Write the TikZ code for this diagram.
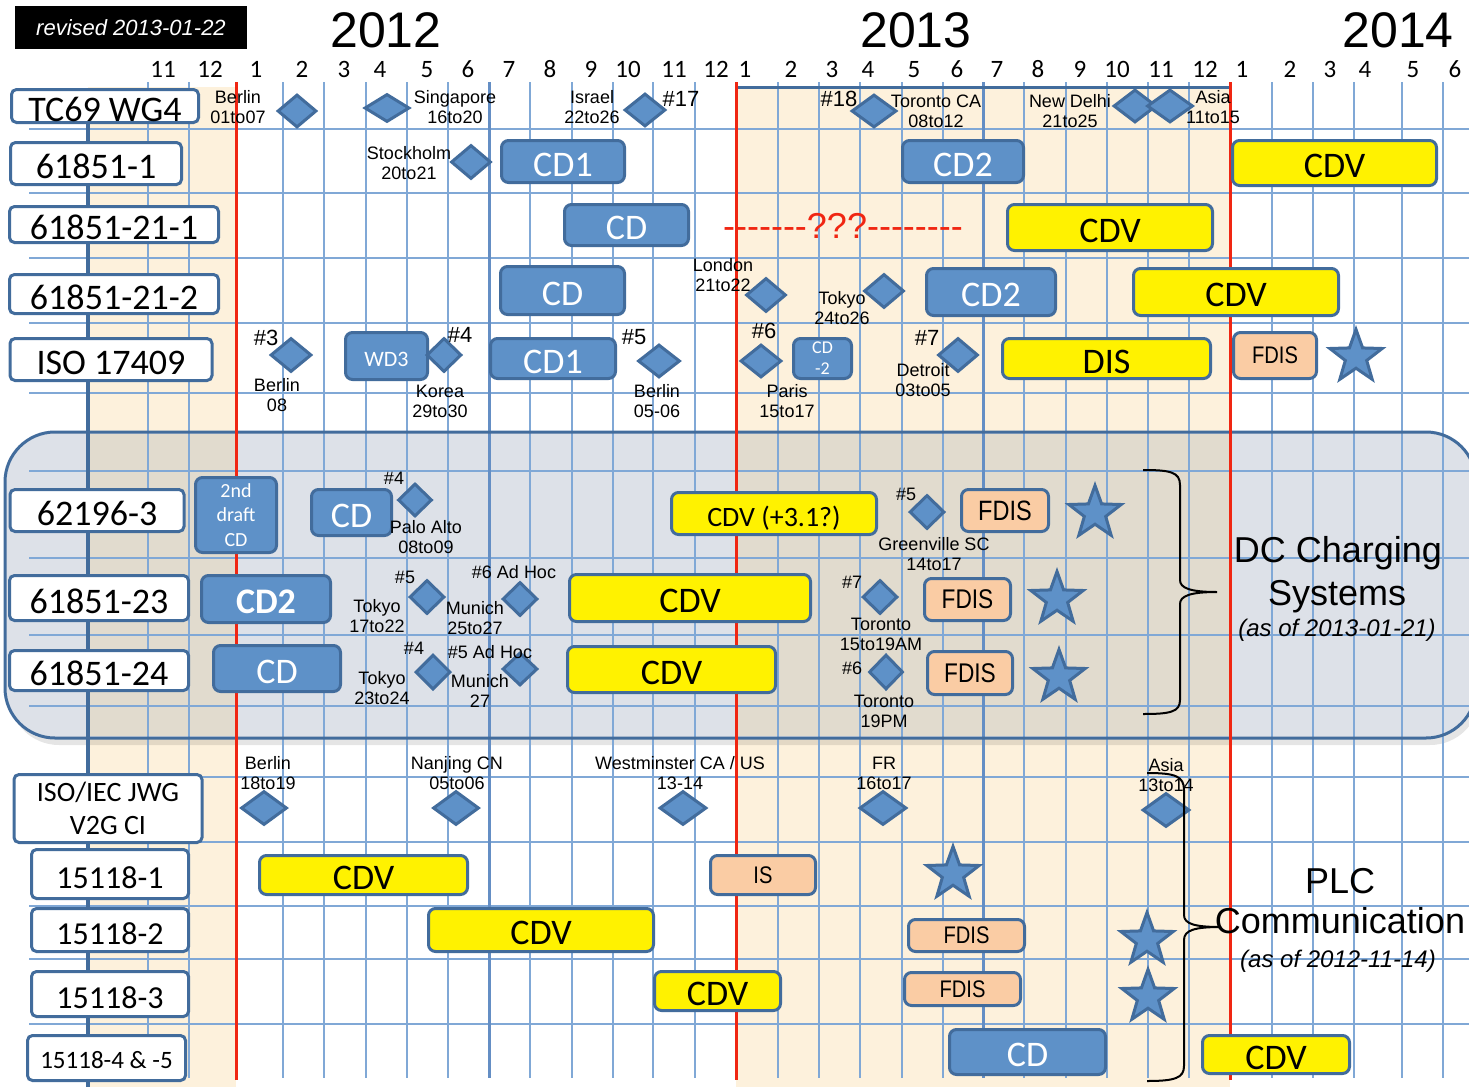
\documentclass[tikz,border=0pt]{standalone}
\usepackage{fontspec}
\setmainfont{Liberation Sans}
\newfontfamily\calib{Carlito}
\newfontfamily\narrow[FakeStretch=0.84]{Liberation Sans}
\usepackage{tikz}
\usetikzlibrary{shapes.geometric}

\definecolor{gridblue}{RGB}{128,168,214}
\definecolor{thickgrid}{RGB}{100,142,196}
\definecolor{edgeblue}{RGB}{66,108,156}
\definecolor{fillblue}{RGB}{94,145,200}
\definecolor{beige}{RGB}{253,241,220}
\definecolor{panelgrey}{RGB}{221,225,232}
\definecolor{panelbeige}{RGB}{225,219,206}
\definecolor{peach}{RGB}{250,204,164}
\definecolor{cutred}{RGB}{240,38,18}

\tikzset{
  gridln/.style={draw=gridblue, line width=1.5pt},
  docbox/.style={draw=edgeblue, fill=white, line width=3pt, rounded corners=5pt, inner sep=0pt, text height=30pt, text depth=0pt, font=\calib\fontsize{36}{40}\selectfont},
  stagebox/.style={draw=edgeblue, line width=3pt, rounded corners=7pt, inner sep=0pt, text depth=0pt},
  cdbox/.style={stagebox, fill=fillblue, text=white, text height=29pt, font=\calib\fontsize{36}{40}\selectfont},
  cdvbox/.style={stagebox, fill=yellow, text height=29pt, font=\calib\fontsize{36}{40}\selectfont},
  fdisbox/.style={stagebox, fill=peach, font=\narrow\fontsize{24}{28}\selectfont},
  notebox/.style={draw=edgeblue, line width=3pt, rounded corners=7pt, fill=fillblue, text=white, align=center, inner sep=0pt},
  meet/.style={diamond, draw=edgeblue, fill=fillblue, line width=3pt, inner sep=0pt, minimum width=40pt, minimum height=34pt},
  goal/.style={star, star points=5, star point ratio=2.45, draw=edgeblue, fill=fillblue, line width=3pt, inner sep=0pt, minimum size=55pt},
  place/.style={align=center, font=\fontsize{18}{20}\selectfont},
  tag/.style={font=\fontsize{22}{24}\selectfont},
  smalltag/.style={font=\fontsize{18}{20}\selectfont},
  brace/.style={draw=black, line width=2pt},
  sidetxt/.style={anchor=base, font=\fontsize{36}{40}\selectfont},
  sidenote/.style={anchor=base, font=\itshape\fontsize{24}{26}\selectfont},
}

\begin{document}
\begin{tikzpicture}[x=1pt, y=-1pt]
\useasboundingbox (0,0) rectangle (1469,1087);
\fill[white] (0,0) rectangle (1469,1087);
\fill[beige] (88,87) rectangle (236,1087);
\fill[beige] (736,87) rectangle (1230,1087);
\fill[black, opacity=0.1, rounded corners=50pt] (9,437) rectangle (1480,745);
\fill[panelgrey, rounded corners=50pt] (5,432) rectangle (1476,738);
\fill[panelbeige] (88,434) rectangle (236,736);
\fill[panelbeige] (736,434) rectangle (1230,736);

\foreach \y in {129,193,258,323,393,471,558,635,706,777,842,906,959,1024}
  \draw[gridln] (29,\y) -- (1469,\y);
\foreach \x in {148,189,283,324,366,407,448,530,572,613,653,695,778,819,860,902,943,1024,1066,1107,1148,1189,1272,1313,1354,1402,1443}
  \draw[gridln] (\x,82) -- (\x,1078);
\foreach \x in {489,983}
  \draw[thickgrid, line width=3pt] (\x,82) -- (\x,1078);
\draw[edgeblue, line width=3pt, rounded corners=50pt] (5,432) rectangle (1476,738);
\draw[edgeblue, line width=3pt] (736,87) -- (1230,87);
\draw[edgeblue, line width=4pt] (88,124) -- (88,1087);
\foreach \x in {236,736,1230}
  \draw[cutred, line width=3pt] (\x,82) -- (\x,1080);

\node[fill=black, text=white, minimum width=232pt, minimum height=43pt, inner sep=0pt, text height=16pt, text depth=0pt, font=\itshape\fontsize{22}{24}\selectfont] (rev) at (131,27.5) {revised 2013-01-22};
\node[anchor=base, font=\fontsize{50}{54}\selectfont] (yra) at (386,47) {2012};
\node[anchor=base, font=\fontsize{50}{54}\selectfont] (yrb) at (916,47) {2013};
\node[anchor=base, font=\fontsize{50}{54}\selectfont] (yrc) at (1398,47) {2014};
\foreach \x/\m in {163/11,210/12,256/1,302/2,344/3,380/4,427/5,468/6,509/7,550/8,591/9,628/10,674/11,716/12,745/1,791/2,832/3,868/4,914/5,957/6,997/7,1038/8,1080/9,1117/10,1161/11,1205/12,1242/1,1290/2,1330/3,1365/4,1413/5,1455/6}
  \node[anchor=base, font=\calib\fontsize{25}{28}\selectfont] (mon\x) at (\x,77) {\m};

\node[text=cutred, font=\fontsize{36}{40}\selectfont] (unknown) at (843,226) {-{}-{}-{}-{}-{}-{}-???-{}-{}-{}-{}-{}-{}-{}-};

\node[docbox, minimum width=187pt, minimum height=33pt] (tcwg) at (105,106) {TC69 WG4};
\node[docbox, minimum width=171pt, minimum height=42pt] (pa) at (96,163.5) {61851-1};
\node[docbox, minimum width=209pt, minimum height=36pt] (pb) at (114,224.5) {61851-21-1};
\node[docbox, minimum width=209pt, minimum height=39pt] (pc) at (114,294) {61851-21-2};
\node[docbox, minimum width=202pt, minimum height=42pt] (isoa) at (111,359.5) {ISO 17409};
\node[docbox, minimum width=174pt, minimum height=42pt] (pd) at (97,510.5) {62196-3};
\node[docbox, minimum width=179pt, minimum height=45pt] (pe) at (99,598) {61851-23};
\node[docbox, minimum width=179pt, minimum height=40pt] (pf) at (99,670.5) {61851-24};
\node[docbox, align=center, text height={}, text depth={}, minimum width=188pt, minimum height=68pt, font=\calib\fontsize{28}{33}\selectfont] (jwg) at (108,808.5) {ISO/IEC JWG\\V2G CI};
\node[docbox, text height=28pt, minimum width=157pt, minimum height=49pt, font=\calib\fontsize{32}{36}\selectfont] (qa) at (110,874) {15118-1};
\node[docbox, text height=28pt, minimum width=157pt, minimum height=43pt, font=\calib\fontsize{32}{36}\selectfont] (qb) at (110,930) {15118-2};
\node[docbox, text height=28pt, minimum width=157pt, minimum height=45pt, font=\calib\fontsize{32}{36}\selectfont] (qc) at (110,994) {15118-3};
\node[docbox, text height=20pt, minimum width=158pt, minimum height=45pt, font=\calib\fontsize{25}{28}\selectfont] (qd) at (106.5,1058) {15118-4 \& -5};

\node[cdbox, minimum width=123pt, minimum height=42pt] (cdA) at (563,161.5) {CD1};
\node[cdbox, minimum width=121pt, minimum height=42pt] (cdB) at (963,161.5) {CD2};
\node[cdvbox, minimum width=204pt, minimum height=45pt] (cdvA) at (1334.5,163) {CDV};
\node[cdbox, minimum width=124pt, minimum height=41pt] (cdC) at (626.5,225) {CD};
\node[cdvbox, minimum width=205pt, minimum height=46pt] (cdvB) at (1110,227.5) {CDV};
\node[cdbox, minimum width=124pt, minimum height=48pt] (cdD) at (562.5,290.5) {CD};
\node[cdbox, minimum width=129pt, minimum height=47pt] (cdE) at (991,292) {CD2};
\node[cdvbox, minimum width=205pt, minimum height=47pt] (cdvC) at (1236,292) {CDV};
\node[cdbox, minimum width=82pt, minimum height=47pt, text height=20pt, font=\calib\fontsize{22}{24}\selectfont] (wd) at (386.5,356) {WD3};
\node[cdbox, minimum width=125pt, minimum height=40pt] (cdF) at (553,358.5) {CD1};
\node[notebox, minimum width=58pt, minimum height=40pt, font=\calib\fontsize{18}{21}\selectfont] (cdG) at (822.5,358.5) {CD\\-2};
\node[cdvbox, minimum width=208pt, minimum height=40pt] (dis) at (1106.5,358.5) {DIS};
\node[fdisbox, minimum width=83pt, minimum height=46pt] (fdA) at (1275,355.5) {FDIS};

\node[notebox, minimum width=81pt, minimum height=75pt, font=\calib\fontsize{20}{24.5}\selectfont] (drft) at (236,515) {2nd\\draft\\CD};
\node[cdbox, minimum width=80pt, minimum height=46pt] (cdH) at (351.5,512.5) {CD};
\node[cdvbox, minimum width=205pt, minimum height=42pt, text height=25pt, font=\calib\fontsize{28}{30}\selectfont] (cdvD) at (774,513.5) {CDV (+3.1?)};
\node[fdisbox, minimum width=87pt, minimum height=42pt, font=\narrow\fontsize{28}{30}\selectfont] (fdB) at (1005,510.5) {FDIS};
\node[cdbox, minimum width=129pt, minimum height=47pt, font=\calib\bfseries\fontsize{36}{40}\selectfont] (cdI) at (266,599) {CD2};
\node[cdvbox, minimum width=241pt, minimum height=47pt] (cdvE) at (690,598) {CDV};
\node[fdisbox, minimum width=86pt, minimum height=42pt, font=\narrow\fontsize{27}{30}\selectfont] (fdC) at (967.5,599.5) {FDIS};
\node[cdbox, minimum width=127pt, minimum height=46pt] (cdJ) at (277,668.5) {CD};
\node[cdvbox, minimum width=208pt, minimum height=46pt] (cdvF) at (671.5,669.5) {CDV};
\node[fdisbox, minimum width=85pt, minimum height=43pt, font=\narrow\fontsize{27}{30}\selectfont] (fdD) at (970,673) {FDIS};

\node[cdvbox, minimum width=208pt, minimum height=39pt] (cdvG) at (363.5,875) {CDV};
\node[fdisbox, minimum width=105pt, minimum height=39pt] (isb) at (763,875) {IS};
\node[cdvbox, minimum width=225pt, minimum height=43pt] (cdvH) at (541,930) {CDV};
\node[fdisbox, minimum width=116pt, minimum height=32pt] (fdE) at (966.5,935.5) {FDIS};
\node[cdvbox, minimum width=126pt, minimum height=39pt] (cdvI) at (717.5,991) {CDV};
\node[fdisbox, minimum width=116pt, minimum height=33pt] (fdF) at (962.5,989) {FDIS};
\node[cdbox, minimum width=156pt, minimum height=45pt] (cdK) at (1027.5,1052) {CD};
\node[cdvbox, minimum width=147pt, minimum height=38pt] (cdvJ) at (1276,1054.5) {CDV};

\node[meet, minimum width=39pt, minimum height=33pt] (dA) at (297,111) {};
\node[meet, minimum width=45pt, minimum height=28pt] (dB) at (387,108) {};
\node[meet, minimum width=41pt, minimum height=33pt] (dC) at (645,110) {};
\node[meet, minimum width=45pt, minimum height=33pt] (dD) at (874,111) {};
\node[meet, minimum width=43pt, minimum height=33pt] (dE) at (1135,106) {};
\node[meet, minimum width=46pt, minimum height=33pt] (dF) at (1170,106) {};
\node[meet] (dG) at (471,162) {};
\node[meet] (dH) at (766,295) {};
\node[meet] (dI) at (884,291) {};
\node[meet, minimum width=41pt] (dJ) at (291,355) {};
\node[meet, minimum width=35pt] (dK) at (444,355) {};
\node[meet, minimum width=42pt, minimum height=33pt] (dL) at (659,361) {};
\node[meet, minimum width=41pt, minimum height=33pt] (dM) at (761,361) {};
\node[meet] (dN) at (958,355) {};
\node[meet, minimum width=34pt, minimum height=33pt] (dO) at (415,500) {};
\node[meet, minimum width=35pt] (dP) at (927,512) {};
\node[meet, minimum width=35pt] (dQ) at (427,597) {};
\node[meet, minimum width=35pt] (dR) at (520,599) {};
\node[meet, minimum width=35pt] (dS) at (880,597) {};
\node[meet, minimum width=35pt, minimum height=35pt] (dT) at (433,672) {};
\node[meet, minimum width=35pt, minimum height=33pt] (dU) at (520,669) {};
\node[meet, minimum width=34pt, minimum height=35pt] (dV) at (886,672) {};
\node[meet, minimum width=46pt] (dW) at (264,808) {};
\node[meet, minimum width=46pt] (dX) at (456,808) {};
\node[meet, minimum width=47pt] (dY) at (683,808) {};
\node[meet, minimum width=47pt] (dZ) at (883,808) {};
\node[meet, minimum width=47pt] (dAsia) at (1166,810) {};

\node[goal] (sA) at (1356,357) {};
\node[goal] (sB) at (1095,513) {};
\node[goal] (sC) at (1057,599) {};
\node[goal] (sD) at (1059,677) {};
\node[goal] (sE) at (953,874) {};
\node[goal] (sF) at (1147,940) {};
\node[goal] (sG) at (1148,997) {};

\node[place] (lberA) at (238,107) {Berlin\\01to07};
\node[place] (lsin) at (455,107) {Singapore\\16to20};
\node[place] (lisr) at (592,107) {Israel\\22to26};
\node[place] (ltorA) at (936,111) {Toronto CA\\08to12};
\node[place] (ldel) at (1070,111) {New Delhi\\21to25};
\node[place] (lasA) at (1213,107) {Asia\\11to15};
\node[place] (lsto) at (409,163) {Stockholm\\20to21};
\node[place] (llon) at (723,275) {London\\21to22};
\node[place] (ltokA) at (842,308) {Tokyo\\24to26};
\node[place] (lberB) at (277,395) {Berlin\\08};
\node[place] (lkor) at (440,401) {Korea\\29to30};
\node[place] (lberC) at (657,401) {Berlin\\05-06};
\node[place] (lpar) at (787,401) {Paris\\15to17};
\node[place] (ldet) at (923,380) {Detroit\\03to05};
\node[place] (lpal) at (426,537) {Palo Alto\\08to09};
\node[place] (lgre) at (934,554) {Greenville SC\\14to17};
\node[place] (ltokB) at (377,616) {Tokyo\\17to22};
\node[place] (lmunA) at (475,618) {Munich\\25to27};
\node[place] (ltorB) at (881,634) {Toronto\\15to19AM};
\node[place] (ltokC) at (382,688) {Tokyo\\23to24};
\node[place] (lmunB) at (480,691) {Munich\\27};
\node[place] (ltorC) at (884,711) {Toronto\\19PM};
\node[place] (lberD) at (268,773) {Berlin\\18to19};
\node[place] (lnan) at (457,773) {Nanjing CN\\05to06};
\node[place] (lwes) at (680,773) {Westminster CA / US\\13-14};
\node[place] (lfr) at (884,773) {FR\\16to17};
\node[place] (lasB) at (1166,775) {Asia\\13to14};

\node[tag] (tA) at (681,99) {\#17};
\node[tag] (tB) at (839,99) {\#18};
\node[tag] (tC) at (266,338) {\#3};
\node[tag] (tD) at (460,335) {\#4};
\node[tag] (tE) at (634,337) {\#5};
\node[tag] (tF) at (764,331) {\#6};
\node[tag] (tG) at (927,338) {\#7};
\node[smalltag] (tH) at (394,478) {\#4};
\node[smalltag] (tI) at (906,494) {\#5};
\node[smalltag] (tJ) at (405,577) {\#5};
\node[smalltag] (tK) at (514,572) {\#6 Ad Hoc};
\node[smalltag] (tL) at (852,582) {\#7};
\node[smalltag] (tM) at (414,648) {\#4};
\node[smalltag] (tN) at (490,652) {\#5 Ad Hoc};
\node[smalltag] (tO) at (852,668) {\#6};

\draw[brace] (1143,470) .. controls (1170,470) and (1180,472) .. (1180,485) -- (1180,580) .. controls (1180,588) and (1190,592) .. (1217,592) .. controls (1190,592) and (1180,596) .. (1180,604) -- (1180,700) .. controls (1180,712) and (1170,714) .. (1143,714);
\draw[brace] (1147,773) .. controls (1175,773) and (1184,776) .. (1184,790) -- (1184,915) .. controls (1184,924) and (1195,927) .. (1221,927) .. controls (1195,927) and (1184,930) .. (1184,940) -- (1184,1066) .. controls (1184,1078) and (1175,1081) .. (1147,1081);

\node[sidetxt] (dcA) at (1338,562) {DC Charging};
\node[sidetxt] (dcB) at (1337,605) {Systems};
\node[sidenote] (dcC) at (1337,636) {(as of 2013-01-21)};
\node[sidetxt] (plcA) at (1340,893) {PLC};
\node[sidetxt] (plcB) at (1340,933) {Communication};
\node[sidenote] (plcC) at (1338,967) {(as of 2012-11-14)};
\end{tikzpicture}
\end{document}
